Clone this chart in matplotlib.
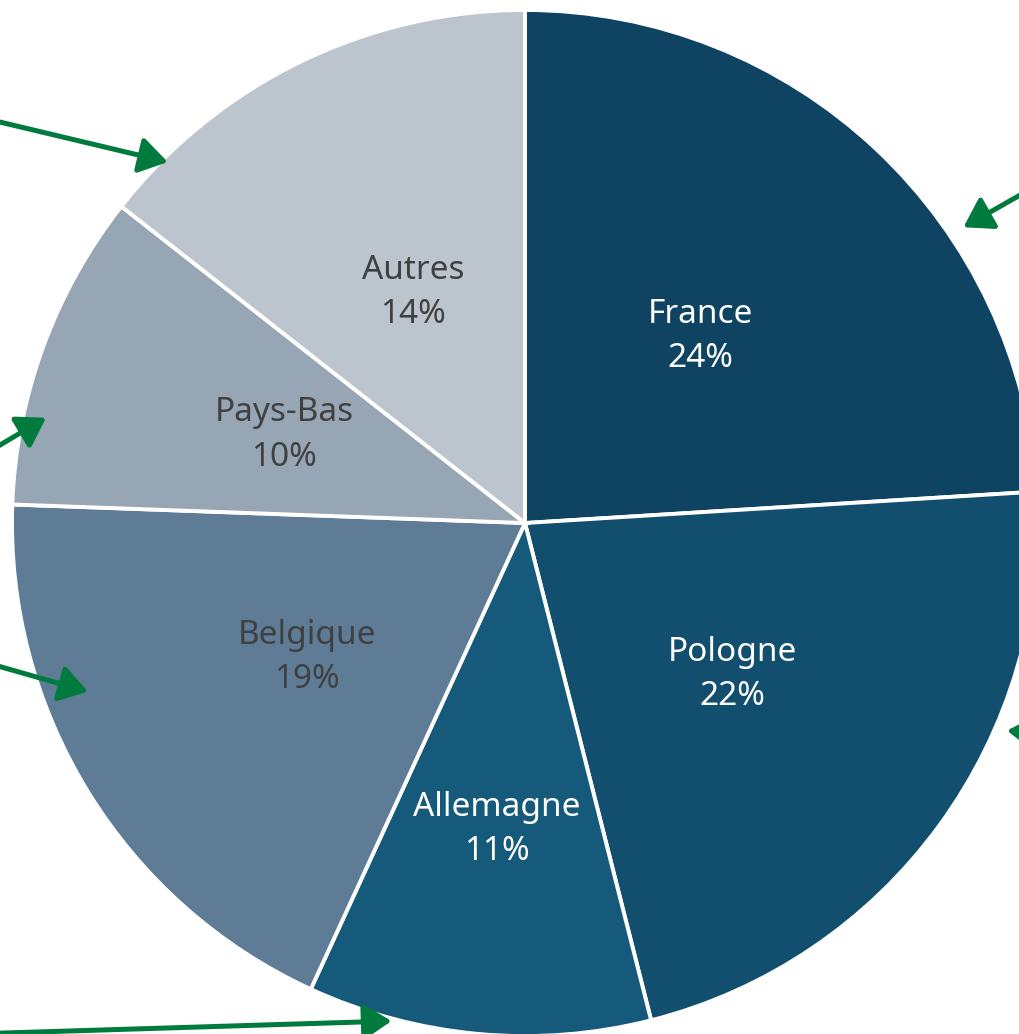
import numpy as np
import matplotlib
matplotlib.use('Agg')
import matplotlib.pyplot as plt

# ================= data =================
countries = ['France', 'Pologne', 'Allemagne', 'Belgique', 'Pays-Bas', 'Autres']
shares = [24.0, 22.0, 10.8, 18.7, 10.0, 14.4]
pct_labels = ['24%', '22%', '11%', '19%', '10%', '14%']

# style
colors = ['#0e4461', '#124f6e', '#155a7b', '#5e7c96', '#97a6b4', '#bcc4ce']
text_colors = ['white', 'white', 'white', '#404040', '#404040', '#404040']
label_dist = [0.5, 0.5, 0.6, 0.5, 0.5, 0.5]
arrow_green = '#007a3d'

# callout arrows (tail -> tip), given as (angle deg, radius) around the pie
arrows = [
    ((145.8, 1.473), (134.7, 0.990)),
    ((33.0, 1.336), (34.0, 1.031)),
    ((174.5, 1.106), (167.6, 0.956)),
    ((192.2, 1.167), (201.1, 0.913)),
    ((-21.6, 1.125), (-23.3, 1.023)),
    ((-138.8, 1.515), (-105.0, 1.005)),
]

plt.rcParams['font.family'] = ['Noto Sans', 'DejaVu Sans']

fig = plt.figure(figsize=(10.19, 10.34), dpi=100)
ax = fig.add_axes([0, 0, 1, 1])

wedges, _ = ax.pie(shares, colors=colors, startangle=90, counterclock=False,
                   radius=1.0, wedgeprops=dict(edgecolor='white', linewidth=2.8))

for i, w in enumerate(wedges):
    mid = np.deg2rad((w.theta1 + w.theta2) / 2)
    r = label_dist[i]
    ax.text(r * np.cos(mid), r * np.sin(mid), f'{countries[i]}\n{pct_labels[i]}',
            ha='center', va='center', fontsize=24, color=text_colors[i],
            linespacing=1.45)

def polar(a, r):
    t = np.deg2rad(a)
    return r * np.cos(t), r * np.sin(t)

for tail, tip in arrows:
    ax.annotate('', xy=polar(*tip), xytext=polar(*tail),
                arrowprops=dict(arrowstyle='-|>,head_length=0.5,head_width=0.32',
                                color=arrow_green, lw=3.6,
                                mutation_scale=34, shrinkA=0, shrinkB=0),
                annotation_clip=False)

ax.set_xlim(-1.0234, 0.963)
ax.set_ylim(-0.996, 1.0195)
ax.set_aspect('auto')
ax.axis('off')

plt.savefig('out.png', dpi=100)
plt.close()
